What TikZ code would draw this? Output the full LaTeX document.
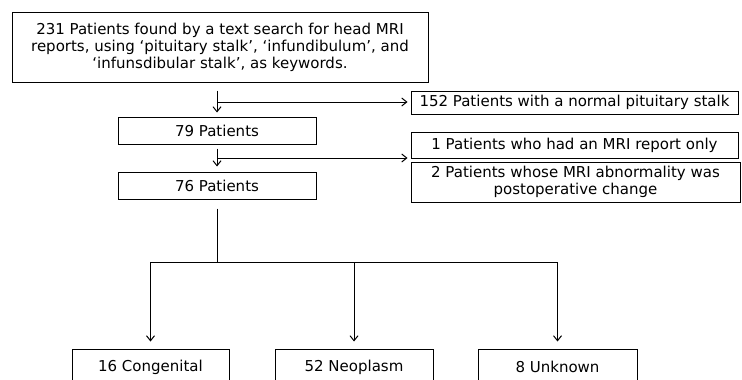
\documentclass[tikz,border=0pt]{standalone}
\usepackage{fontspec}
\setmainfont{DejaVu Sans}
\usetikzlibrary{arrows.meta}
\begin{document}
\begin{tikzpicture}[x=1pt, y=-1pt, line width=1pt,
  >={Straight Barb[length=5pt,width=8pt]},
  flowbox/.style={draw, inner sep=0pt, align=center,
    font=\fontsize{15}{17}\selectfont},
  groupbox/.style={flowbox, minimum width=158pt, minimum height=36pt}]
\useasboundingbox (0,0) rectangle (742,380);
\clip (0,0) rectangle (742,380);
% main column
\node[flowbox, minimum width=416pt, minimum height=70pt] (search) at (220,47)
  {231 Patients found by a text search for head MRI\\
   reports, using `pituitary stalk', `infundibulum', and\\
   `infunsdibular stalk', as keywords.};
\node[flowbox, minimum width=198pt, minimum height=27pt] (p79) at (217,130.5) {79 Patients};
\node[flowbox, minimum width=198pt, minimum height=27pt] (p76) at (217,185.5) {76 Patients};
% excluded
\node[flowbox, minimum width=327pt, minimum height=23pt] (normal) at (574.5,102.5) {152 Patients with a normal pituitary stalk};
\node[flowbox, minimum width=327pt, minimum height=26pt] (mrionly) at (574.5,145) {1 Patients who had an MRI report only};
\node[flowbox, minimum width=329pt, minimum height=40pt] (postop) at (575.5,182)
  {2 Patients whose MRI abnormality was\\ postoperative change};
% groups
\node[groupbox, minimum width=157pt] (cong) at (150.5,367) {16 Congenital};
\node[groupbox] (neo) at (354,367) {52 Neoplasm};
\node[groupbox, minimum width=159pt] (unk) at (557.5,367) {8 Unknown};
% connectors
\coordinate (j1) at (217,102);
\coordinate (j2) at (217,158);
\coordinate (j3) at (217,262);
\draw[->, shorten <=8pt, shorten >=4pt] (search.south -| p79.north) -- (p79.north);
\draw[->, shorten >=3pt] (j1) -- (j1 -| normal.west);
\draw[->, shorten <=4pt, shorten >=5pt] (p79.south) -- (p76.north);
\draw[->, shorten >=3pt] (j2) -- (j2 -| mrionly.west);
\draw[shorten <=9pt] (p76.south) -- (j3);
\draw (cong.north |- j3) -- (unk.north |- j3);
\foreach \grp in {cong,neo,unk}
  \draw[->, shorten >=7pt] (\grp.north |- j3) -- (\grp.north);
\end{tikzpicture}
\end{document}
